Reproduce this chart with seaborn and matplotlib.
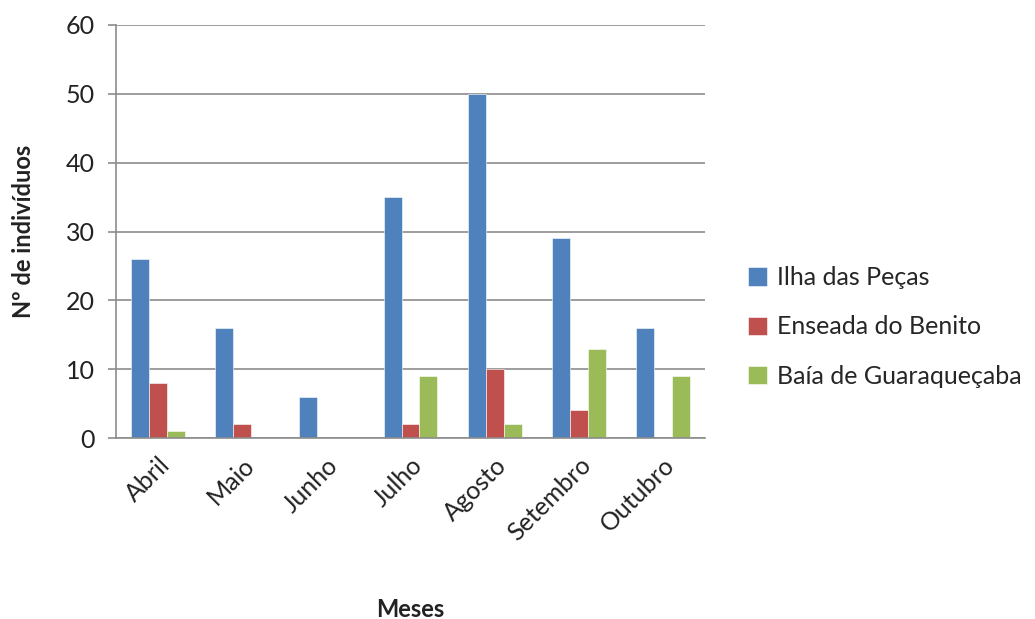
import matplotlib
matplotlib.use("Agg")
import matplotlib.pyplot as plt
import seaborn as sns
import pandas as pd

meses = ["Abril", "Maio", "Junho", "Julho", "Agosto", "Setembro", "Outubro"]
ilha_das_pecas = [26, 16, 6, 35, 50, 29, 16]
enseada_do_benito = [8, 2, 0, 2, 10, 4, 0]
baia_de_guaraquecaba = [1, 0, 0, 9, 2, 13, 9]
series_names = ["Ilha das Peças", "Enseada do Benito", "Baía de Guaraqueçaba"]
colors = ["#4F81BD", "#C0504D", "#9BBB59"]

rows = []
for name, vals in zip(series_names, [ilha_das_pecas, enseada_do_benito, baia_de_guaraquecaba]):
    for m, v in zip(meses, vals):
        rows.append({"Mês": m, "Local": name, "Valor": v})
df = pd.DataFrame(rows)

sns.set_theme(style="white")
plt.rcParams["font.family"] = ["Lato", "DejaVu Sans"]

fig = plt.figure(figsize=(10.35, 6.19), dpi=100)
ax = fig.add_axes([116 / 1035, 1 - 438 / 619, (705 - 116) / 1035, (438 - 25) / 619])

sns.barplot(data=df, x="Mês", y="Valor", hue="Local", order=meses,
            hue_order=series_names, palette=colors, width=0.64,
            saturation=1, ax=ax, legend=True)
for p in ax.patches:
    p.set_edgecolor("white")
    p.set_linewidth(0.4)

ax.set_ylim(0, 60)
ax.set_yticks(range(0, 61, 10))
ax.set_xlim(-0.5, len(meses) - 0.5)
ax.yaxis.grid(True, color="#8c8c8c", linewidth=1.2)
ax.set_axisbelow(True)
for s in ["top", "right"]:
    ax.spines[s].set_visible(False)
for s in ["left", "bottom"]:
    ax.spines[s].set_color("#8c8c8c")
    ax.spines[s].set_linewidth(1.2)

ax.tick_params(axis="y", left=True, length=6, width=1.2, color="#8c8c8c",
               labelsize=18, labelcolor="#222222", pad=9)
ax.tick_params(axis="x", bottom=False, labelsize=18, labelcolor="#222222", pad=5)
for lbl in ax.get_xticklabels():
    lbl.set_rotation(45)
    lbl.set_ha("right")
    lbl.set_rotation_mode("anchor")

ax.set_xlabel("Meses", fontsize=17, fontweight="bold", color="#222222", labelpad=38)
ax.set_ylabel("Nº de indivíduos", fontsize=17, fontweight="bold", color="#222222", labelpad=22)

handles, labels = ax.get_legend_handles_labels()
ax.legend(handles, labels, loc="center left", bbox_to_anchor=(1.073, 0.269),
          frameon=False, fontsize=18, handlelength=0.75, handleheight=0.75,
          labelspacing=1.05, handletextpad=0.4, borderaxespad=0, borderpad=0)

fig.savefig("out.png", dpi=100)
